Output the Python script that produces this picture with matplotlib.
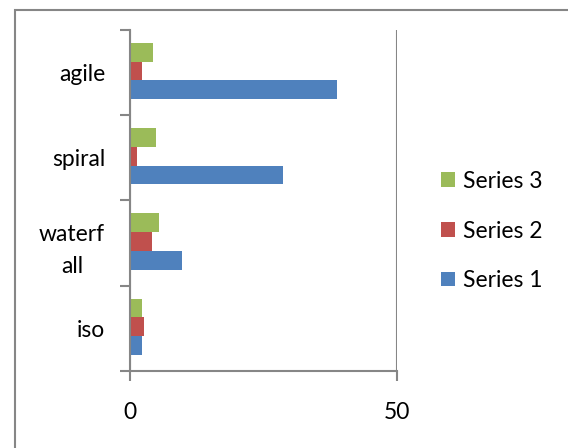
import matplotlib.pyplot as plt
from matplotlib.patches import Rectangle
from matplotlib.ticker import FixedLocator
import numpy as np

# data
categories = ["iso", "waterf\nall", "spiral", "agile"]
series_1 = [2.3, 9.8, 28.7, 38.8]
series_2 = [2.7, 4.1, 1.4, 2.3]
series_3 = [2.3, 5.4, 4.9, 4.4]
series_names = ["Series 1", "Series 2", "Series 3"]
x_ticks = [0, 50]

colors = ["#4F81BD", "#C0504D", "#9BBB59"]
axis_gray = "#868686"

plt.rcParams["font.family"] = ["Lato", "DejaVu Sans"]
fs = 16.5

fig = plt.figure(figsize=(5.68, 4.48), dpi=100)
ax = fig.add_axes([130 / 568, 1 - 371 / 448, 267 / 568, 341 / 448])

y = np.arange(len(categories))
bar_h = 0.22
for k, (vals, name) in enumerate(zip([series_1, series_2, series_3], series_names)):
    ax.barh(y + (k - 1) * bar_h + 0.02, vals, height=bar_h, color=colors[k],
            label=name, zorder=3)

ax.set_xlim(0, 50)
ax.set_ylim(-0.5, len(categories) - 0.5)

# category labels at centres, tick marks at the band boundaries
ax.set_yticks(y)
ax.set_yticklabels(categories, fontsize=fs, ha="right", multialignment="center",
                   linespacing=1.65)
ax.tick_params(axis="y", which="major", length=0, pad=18)
ax.yaxis.set_minor_locator(FixedLocator(np.arange(-0.5, len(categories), 1.0)))
ax.tick_params(axis="y", which="minor", length=7.5, width=1.5, color=axis_gray,
               direction="out")

ax.set_xticks(x_ticks)
ax.set_xticklabels([str(v) for v in x_ticks], fontsize=fs)
ax.tick_params(axis="x", length=7.5, width=1.5, color=axis_gray, direction="out", pad=15)
ax.xaxis.grid(True, color=axis_gray, linewidth=1.5, zorder=1)

for side in ["top", "right"]:
    ax.spines[side].set_visible(False)
for side in ["left", "bottom"]:
    ax.spines[side].set_color(axis_gray)
    ax.spines[side].set_linewidth(1.5)
    ax.spines[side].set_zorder(4)

handles, labels = ax.get_legend_handles_labels()
ax.legend(handles[::-1], labels[::-1], loc="center left",
          bbox_to_anchor=(441 / 568, 1 - 231 / 448), bbox_transform=fig.transFigure,
          frameon=False, fontsize=fs, handlelength=0.6, handleheight=0.6,
          handletextpad=0.35, labelspacing=1.25, borderpad=0, borderaxespad=0)

# outer chart border
fig.add_artist(Rectangle((14.5 / 568, -0.1), 1.0, 1.1 - 10 / 448, transform=fig.transFigure,
                         fill=False, edgecolor=axis_gray, linewidth=1.5))

fig.savefig("out.png", dpi=100)
